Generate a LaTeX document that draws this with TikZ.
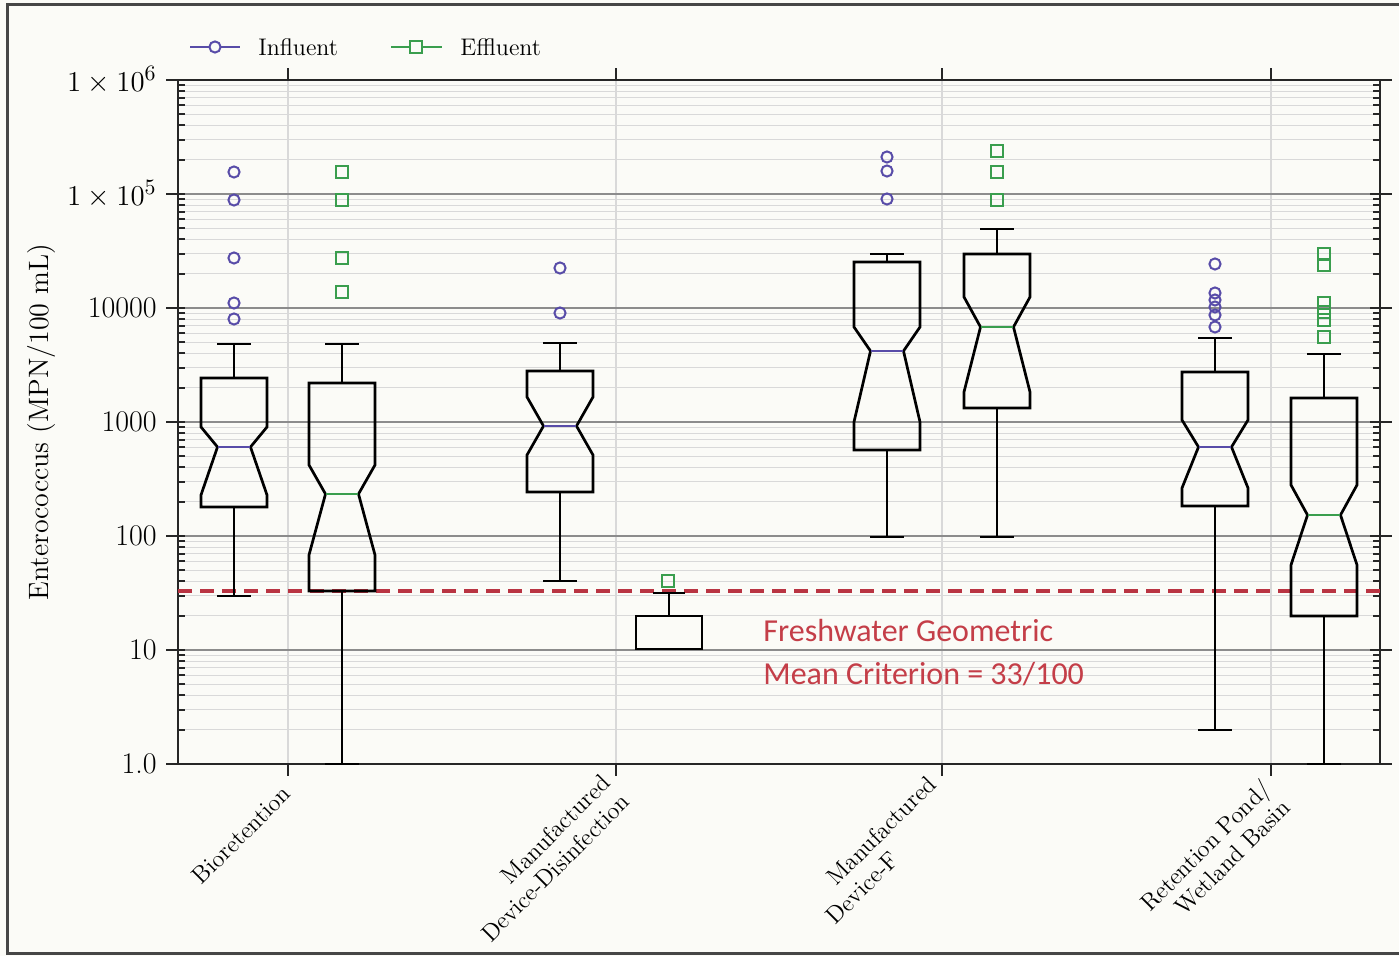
\documentclass[tikz,border=0pt]{standalone}
\usepackage{fontspec}
\newfontfamily\critfont{Carlito}
\definecolor{bgc}{RGB}{251,251,247}
\definecolor{inflc}{RGB}{88,76,168}
\definecolor{efflc}{RGB}{58,158,78}
\definecolor{critc}{RGB}{185,52,66}
\definecolor{crittext}{RGB}{196,62,72}
\definecolor{framec}{RGB}{70,70,70}
\newcommand\nbox[9]{%
  \draw[boxline] ({#1-33},#3) -- ({#1+33},#3) -- ({#1+33},#4) -- ({#1+16.5},#5) -- ({#1+33},#6) -- ({#1+33},#7) -- ({#1-33},#7) -- ({#1-33},#6) -- ({#1-16.5},#5) -- ({#1-33},#4) -- cycle;
  \draw[boxline] (#1,#2) -- (#1,#3) (#1,#7) -- (#1,#8);
  \draw[boxline] ({#1-17},#2) -- ({#1+17},#2) ({#1-17},#8) -- ({#1+17},#8);
  \draw[#9, line width=1.3pt] ({#1-16},#5) -- ({#1+16},#5);
}
\newcommand\omark[2]{\draw[inflc, line width=1pt] (#1,#2) circle[radius=2.8pt];}
\newcommand\smark[2]{\draw[efflc, line width=1pt] ({#1-6},{#2-6}) rectangle ({#1+6},{#2+6});}
\begin{document}
\begin{tikzpicture}[x=0.5pt,y=-0.5pt,
  boxline/.style={black, line width=1.35pt, line join=miter},
  axisline/.style={black!85, line width=1.2pt},
  majorgrid/.style={black!45, line width=0.7pt},
  minorgrid/.style={black!15, line width=0.5pt},
  vgrid/.style={black!15, line width=0.6pt},
  tickline/.style={black!85, line width=0.9pt},
  ticklab/.style={anchor=east, inner sep=0pt, font=\fontsize{15}{18}\selectfont},
  catlab/.style={inner sep=0pt, rotate=45, font=\fontsize{12}{13.5}\selectfont},
  legtext/.style={anchor=west, inner sep=0pt, font=\fontsize{12}{14}\selectfont},
  crit/.style={anchor=base west, inner sep=0pt, text=crittext, font=\critfont\fontsize{16}{19}\selectfont},
  critline/.style={critc, line width=2pt, dash pattern=on 7pt off 4pt}]
\useasboundingbox (0,0) rectangle (1399,956);
\fill[bgc] (0,0) rectangle (1399,956);
\draw[framec, line width=1.5pt] (1399,5) -- (7,5) -- (7,954) -- (1399,954);
% minor grid and ticks
\foreach \d in {0,...,5} {
  \foreach \k in {2,...,9} {
    \pgfmathsetmacro\yy{764-114*(\d+log10(\k))}
    \draw[minorgrid] (178,\yy) -- (1380,\yy);
    \draw[tickline] (178,\yy) -- (185,\yy);
    \draw[tickline] (1373,\yy) -- (1380,\yy);
  }
}
% vertical grid and category ticks
\foreach \cx in {288,616,942,1271} {
  \draw[vgrid] (\cx,80) -- (\cx,764);
  \draw[tickline] (\cx,80) -- (\cx,68);
  \draw[tickline] (\cx,764) -- (\cx,776);
}
% major grid, ticks, labels
\foreach \d/\lab in {0/1.0,1/10,2/100,3/1000,4/10000,5/{$1\times10^{5}$},6/{$1\times10^{6}$}} {
  \pgfmathsetmacro\yy{764-114*\d}
  \draw[majorgrid] (178,\yy) -- (1380,\yy);
  \draw[tickline] (166,\yy) -- (185,\yy);
  \draw[tickline] (1370,\yy) -- (1392,\yy);
  \node[ticklab] (yl\d) at (157,\yy) {\lab};
}
\draw[axisline] (178,80) rectangle (1380,764);
% y label
\node[rotate=90, inner sep=0pt, font=\fontsize{14}{17}\selectfont] (ylab) at (42,422) {Enterococcus (MPN/100 mL)};
% criterion line
\draw[critline] (178,591) -- (1380,591);
\node[crit] (crit1) at (763,642) {Freshwater Geometric};
\node[crit] (crit2) at (763,685) {Mean Criterion = 33/100};
% boxes
\nbox{234}{344}{378}{427}{447}{495}{507}{596}{inflc}
\nbox{342}{344}{383}{465}{494}{555}{591}{764}{efflc}
\nbox{560}{343}{371}{397}{426}{455}{492}{581}{inflc}
\draw[boxline] (636,616) rectangle (702,649);
\draw[boxline] (669,616) -- (669,593) (653,593) -- (685,593);
\nbox{887}{254}{262}{327}{351}{422}{450}{537}{inflc}
\nbox{997}{229}{254}{297}{327}{392}{408}{537}{efflc}
\nbox{1215}{338}{372}{420}{447}{488}{506}{730}{inflc}
\nbox{1324}{354}{398}{485}{515}{565}{616}{764}{efflc}
% outliers
\foreach \yy in {172,200,258,303,319} {\omark{234}{\yy}}
\foreach \yy in {172,200,258,292} {\smark{342}{\yy}}
\foreach \yy in {268,313} {\omark{560}{\yy}}
\smark{668}{581}
\foreach \yy in {157,171,199} {\omark{887}{\yy}}
\foreach \yy in {151,172,200} {\smark{997}{\yy}}
\foreach \yy in {264,293,300,307,315,327} {\omark{1215}{\yy}}
\foreach \yy in {254,265,303,312,320,337} {\smark{1324}{\yy}}
% category labels
\node[catlab, anchor=west] (c1) at (196,880) {Bioretention};
\node[catlab, anchor=north east, align=right] (c2) at (600,772) {Manufactured\\Device-Disinfection};
\node[catlab, anchor=north west, align=left] (c3) at (824,875) {Manufactured\\\hspace*{-14pt}Device-F};
\node[catlab, anchor=north east, align=right] (c4) at (1260,777) {Retention Pond/\\Wetland Basin};
% legend
\draw[inflc, line width=1.4pt] (190,47) -- (240,47);
\draw[inflc, fill=bgc, line width=1pt] (215,47) circle[radius=2.8pt];
\node[legtext] (leg1) at (258,47) {Influent};
\draw[efflc, line width=1.4pt] (391,47) -- (442,47);
\draw[efflc, fill=bgc, line width=1pt] (410,41) rectangle (422,53);
\node[legtext] (leg2) at (460,47) {Effluent};
\end{tikzpicture}
\end{document}
